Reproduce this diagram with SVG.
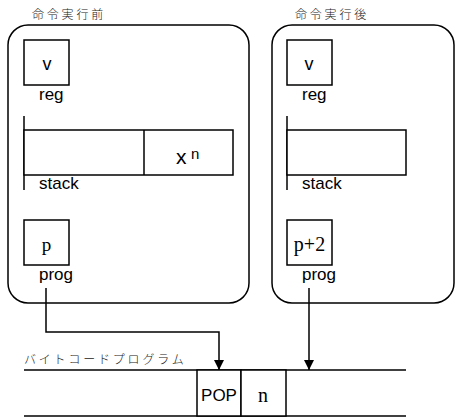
<svg xmlns="http://www.w3.org/2000/svg" width="455" height="419" viewBox="0 0 455 419">
  <style>
    .frame { fill: none; stroke: #000; stroke-width: 1.5; }
    .cell { fill: #fff; stroke: #000; stroke-width: 1.5; }
    .line { fill: none; stroke: #000; stroke-width: 1.5; }
    .sans { font-family: "Liberation Sans", Arial, sans-serif; fill: #000; }
    .serif { font-family: "Liberation Serif", "Times New Roman", serif; fill: #000; }
    .jp { font-family: "Noto Sans CJK JP", sans-serif; font-weight: 300; font-size: 12px; letter-spacing: 2.8px; fill: #222; }
    .lbl { font-size: 17px; }
  </style>
  <defs>
    <marker id="arrow" viewBox="0 0 10 10" refX="10" refY="5" markerWidth="10" markerHeight="10" markerUnits="userSpaceOnUse" orient="auto">
      <path d="M0,0 L10,5 L0,10 Z" fill="#000"/>
    </marker>
  </defs>

  <!-- state before the instruction -->
  <g id="before">
    <text class="jp" x="32" y="18.5">命令実行前</text>
    <rect class="frame" x="8" y="25" width="241" height="278" rx="20" ry="20"/>
    <g id="before-reg">
      <rect class="cell" x="24" y="40" width="45" height="45"/>
      <text class="sans" x="47" y="70" font-size="18" text-anchor="middle">v</text>
      <text class="sans lbl" x="39" y="100">reg</text>
    </g>
    <g id="before-stack">
      <line class="line" x1="24" y1="116" x2="24" y2="190"/>
      <rect class="cell" x="24" y="130" width="209" height="45"/>
      <line class="line" x1="144" y1="130" x2="144" y2="175"/>
      <text class="sans" x="176" y="164" font-size="21">x</text>
      <text class="sans" x="191" y="159" font-size="15">n</text>
      <text class="sans lbl" x="39" y="189">stack</text>
    </g>
    <g id="before-prog">
      <rect class="cell" x="24" y="220" width="45" height="45"/>
      <text class="serif" x="46.5" y="251" font-size="19" text-anchor="middle">p</text>
      <text class="sans lbl" x="39" y="280">prog</text>
    </g>
  </g>

  <!-- state after the instruction -->
  <g id="after">
    <text class="jp" x="295" y="18.5">命令実行後</text>
    <rect class="frame" x="272" y="25" width="182" height="278" rx="20" ry="20"/>
    <g id="after-reg">
      <rect class="cell" x="287" y="40" width="45" height="45"/>
      <text class="sans" x="309" y="70" font-size="18" text-anchor="middle">v</text>
      <text class="sans lbl" x="302" y="100">reg</text>
    </g>
    <g id="after-stack">
      <line class="line" x1="287" y1="116" x2="287" y2="190"/>
      <rect class="cell" x="287" y="130" width="119" height="45"/>
      <text class="sans lbl" x="302" y="189">stack</text>
    </g>
    <g id="after-prog">
      <rect class="cell" x="287" y="220" width="45" height="45"/>
      <text class="serif" x="309.5" y="251" font-size="20" text-anchor="middle">p+2</text>
      <text class="sans lbl" x="302" y="280">prog</text>
    </g>
  </g>

  <!-- bytecode tape -->
  <g id="bytecode">
    <text class="jp" x="24" y="364">バイトコードプログラム</text>
    <line class="line" x1="24" y1="370" x2="406" y2="370"/>
    <line class="line" x1="24" y1="416" x2="406" y2="416"/>
    <g id="op-pop">
      <rect class="cell" x="197" y="370" width="44" height="46"/>
      <text class="sans" x="219" y="401" font-size="17" text-anchor="middle">POP</text>
    </g>
    <g id="op-arg">
      <rect class="cell" x="241" y="370" width="45" height="46"/>
      <text class="serif" x="263" y="402" font-size="20" text-anchor="middle">n</text>
    </g>
  </g>

  <!-- program counter pointers -->
  <g id="connectors">
    <polyline class="line" points="46,288 46,332 219,332 219,370" marker-end="url(#arrow)"/>
    <line class="line" x1="309" y1="288" x2="309" y2="370" marker-end="url(#arrow)"/>
  </g>
</svg>
